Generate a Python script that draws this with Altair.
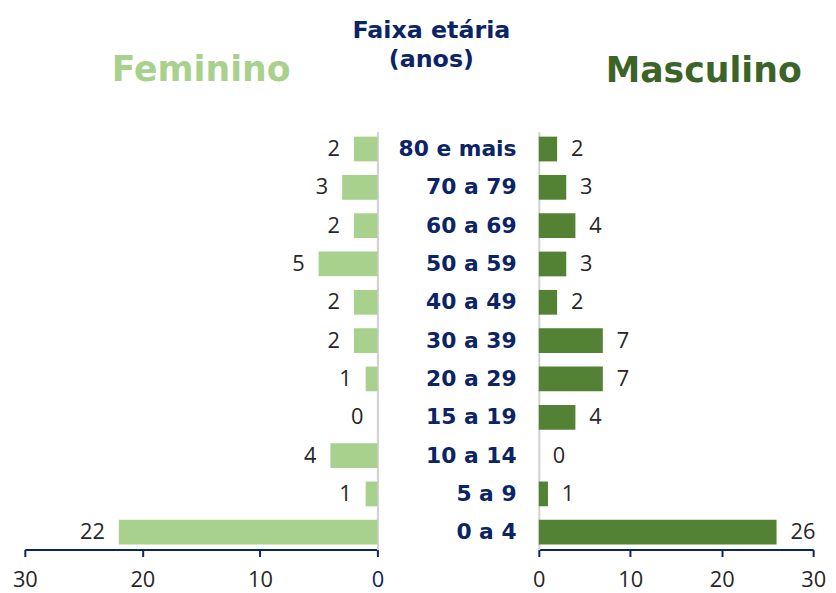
import altair as alt
import pandas as pd

categories = ["80 e mais", "70 a 79", "60 a 69", "50 a 59", "40 a 49", "30 a 39",
              "20 a 29", "15 a 19", "10 a 14", "5 a 9", "0 a 4"]
feminino = [2, 3, 2, 5, 2, 2, 1, 0, 4, 1, 22]
masculino = [2, 3, 4, 3, 2, 7, 7, 4, 0, 1, 26]
ticks = [0, 10, 20, 30]

FEM = "#a9d18e"
MASC = "#548235"
MASC_T = "#3c6428"
NAVY = "#0b2465"
GREY = "#d0d0d0"
TXT = "#262626"
FONT = "Open Sans"
BFONT = "DejaVu Sans"

df = pd.DataFrame({"cat": categories, "fem": feminino, "masc": masculino})

yscale = alt.Scale(paddingInner=0.354, paddingOuter=0.13)
PH = 422

xaxis_common = dict(values=ticks, grid=False, domainColor=NAVY, domainWidth=2,
                    tickColor=NAVY, tickWidth=2, tickSize=7, labelFontSize=22,
                    labelFont=FONT, labelPadding=13, labelFlush=False, title=None)

left_base = alt.Chart(df).encode(
    x=alt.X("fem:Q", scale=alt.Scale(domain=[0, 30], reverse=True),
            axis=alt.Axis(**xaxis_common,
                          labelColor={"condition": {"test": "datum.value === 0", "value": NAVY},
                                      "value": TXT})),
    y=alt.Y("cat:N", sort=categories, scale=yscale,
            axis=alt.Axis(orient="right", labels=False, ticks=False, domainColor=GREY,
                          domainWidth=2, title=None, minExtent=0, maxExtent=0, grid=False)),
)
left = (left_base.mark_bar(color=FEM)
        + left_base.mark_text(align="right", dx=-14, fontSize=22, font=FONT, color=TXT)
        .encode(text="fem:Q")).properties(
    width=356, height=PH,
    title=alt.TitleParams("Feminino", fontSize=35, font=BFONT, fontWeight="bold", color=FEM,
                          anchor="middle", frame="group", baseline="alphabetic", offset=16))

right_base = alt.Chart(df).encode(
    x=alt.X("masc:Q", scale=alt.Scale(domain=[0, 30]),
            axis=alt.Axis(**xaxis_common, labelColor=TXT)),
    y=alt.Y("cat:N", sort=categories, scale=yscale,
            axis=alt.Axis(orient="left", ticks=False, domainColor=GREY, domainWidth=2,
                          labelFontSize=22, labelFont=BFONT, labelFontWeight="bold",
                          labelColor=NAVY, labelPadding=23, grid=False,
                          minExtent=161, maxExtent=161,
                          title=["Faixa etária", "(anos)"], titleAngle=0, titleX=-109,
                          titleY=-95, titleAlign="center", titleBaseline="alphabetic",
                          titleFontSize=24, titleFont=BFONT, titleFontWeight="bold",
                          titleColor=NAVY, titleLineHeight=29)),
)
right = (right_base.mark_bar(color=MASC)
         + right_base.mark_text(align="left", dx=14, fontSize=22, font=FONT, color=TXT)
         .encode(text="masc:Q")).properties(
    width=277, height=PH,
    title=alt.TitleParams("Masculino", fontSize=35, font=BFONT, fontWeight="bold", color=MASC_T,
                          anchor="middle", dx=28, frame="group", baseline="alphabetic",
                          offset=-99))

chart = alt.hconcat(left, right, spacing=-33).properties(
    padding={"left": 4, "right": 2, "top": 8, "bottom": 2}
).configure_view(strokeWidth=0)

chart.save("out.html", embed_options={"renderer": "svg", "actions": False})
